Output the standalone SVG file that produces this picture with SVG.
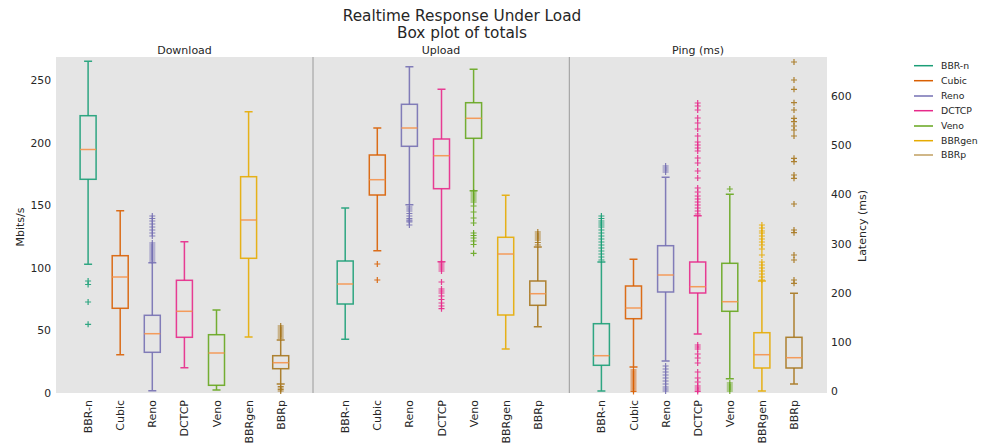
<svg xmlns="http://www.w3.org/2000/svg" xmlns:xlink="http://www.w3.org/1999/xlink" width="988" height="444" viewBox="0 0 988 444">
<style>
text{font-family:"DejaVu Sans","Liberation Sans",sans-serif;fill:#262626}
.t1{font-size:15.3px;text-anchor:middle}
.pt{font-size:11px;text-anchor:middle}
.tk{font-size:10.8px}
.xl{font-size:11px;text-anchor:end}
.lg{font-size:9.3px}
.bx{fill:none;stroke-width:1.5;stroke-opacity:.9}
.bx rect,.bx path{fill:none}
.md{stroke:#f5924b;stroke-width:1.5}
.c0{stroke:#1b9e77}.c1{stroke:#d95f02}.c2{stroke:#7570b3}.c3{stroke:#e7298a}.c4{stroke:#66a61e}.c5{stroke:#e6ab02}.c6{stroke:#a6761d}
</style>
<defs>
<path id="f" d="M-3,0H3M0,-3V3" stroke-width="1.2"/>
</defs>
<rect width="988" height="444" fill="#ffffff"/>
<g id="axes">
<rect x="56" y="57" width="771" height="336" fill="#e5e5e5"/>
<path d="M313,57V393M569.3,57V393" stroke="#9a9a9a" stroke-width="1"/>
<text class="t1" x="462" y="21">Realtime Response Under Load</text>
<text class="t1" x="462" y="38">Box plot of totals</text>
<text class="pt" x="184.5" y="54">Download</text>
<text class="pt" x="441" y="54">Upload</text>
<text class="pt" x="698" y="54">Ping (ms)</text>
<g class="tk" text-anchor="end">
<text x="51" y="397">0</text><text x="51" y="334.4">50</text><text x="51" y="271.8">100</text><text x="51" y="209.2">150</text><text x="51" y="146.6">200</text><text x="51" y="84">250</text>
</g>
<g class="tk" text-anchor="start">
<text x="831" y="395">0</text><text x="831" y="345.8">100</text><text x="831" y="296.7">200</text><text x="831" y="247.5">300</text><text x="831" y="198.3">400</text><text x="831" y="149.2">500</text><text x="831" y="100">600</text>
</g>
<text class="pt" transform="translate(24,227) rotate(-90)">Mbits/s</text>
<text class="pt" transform="translate(866,226) rotate(-90)">Latency (ms)</text>
<g class="xl">
<text transform="translate(92.1,400) rotate(-90)">BBR-n</text>
<text transform="translate(124.2,400) rotate(-90)">Cubic</text>
<text transform="translate(156.3,400) rotate(-90)">Reno</text>
<text transform="translate(188.4,400) rotate(-90)">DCTCP</text>
<text transform="translate(220.5,400) rotate(-90)">Veno</text>
<text transform="translate(252.6,400) rotate(-90)">BBRgen</text>
<text transform="translate(284.7,400) rotate(-90)">BBRp</text>
<text transform="translate(349.2,400) rotate(-90)">BBR-n</text>
<text transform="translate(381.3,400) rotate(-90)">Cubic</text>
<text transform="translate(413.4,400) rotate(-90)">Reno</text>
<text transform="translate(445.5,400) rotate(-90)">DCTCP</text>
<text transform="translate(477.6,400) rotate(-90)">Veno</text>
<text transform="translate(509.7,400) rotate(-90)">BBRgen</text>
<text transform="translate(541.8,400) rotate(-90)">BBRp</text>
<text transform="translate(605.4,400) rotate(-90)">BBR-n</text>
<text transform="translate(637.5,400) rotate(-90)">Cubic</text>
<text transform="translate(669.6,400) rotate(-90)">Reno</text>
<text transform="translate(701.7,400) rotate(-90)">DCTCP</text>
<text transform="translate(733.8,400) rotate(-90)">Veno</text>
<text transform="translate(765.9,400) rotate(-90)">BBRgen</text>
<text transform="translate(798,400) rotate(-90)">BBRp</text>
</g>
</g>
<g id="download">
<g id="d-bbrn" class="bx c0"><path d="M88.1,61.3V115.7M88.1,179.3V264.3M84.1,61.3H92.1M84.1,264.3H92.1"/><rect x="80.1" y="115.7" width="16" height="63.6"/><path class="md" d="M80.1,149.5H96.1"/>
<use href="#f" x="88.1" y="281"/><use href="#f" x="88.1" y="284.5"/><use href="#f" x="88.1" y="302"/><use href="#f" x="88.1" y="324.3"/></g>
<g id="d-cubic" class="bx c1"><path d="M120.2,210.7V255.7M120.2,308.3V354.7M116.2,210.7H124.2M116.2,354.7H124.2"/><rect x="112.2" y="255.7" width="16" height="52.6"/><path class="md" d="M112.2,277H128.2"/></g>
<g id="d-reno" class="bx c2"><path d="M152.3,262.7V315.3M152.3,352.3V390.7M148.3,262.7H156.3M148.3,390.7H156.3"/><rect x="144.3" y="315.3" width="16" height="37"/><path class="md" d="M144.3,333.7H160.3"/>
<use href="#f" x="152.3" y="216"/><use href="#f" x="152.3" y="218.5"/><use href="#f" x="152.3" y="221"/><use href="#f" x="152.3" y="224"/><use href="#f" x="152.3" y="227"/><use href="#f" x="152.3" y="230"/><use href="#f" x="152.3" y="233"/><use href="#f" x="152.3" y="236"/><use href="#f" x="152.3" y="243"/><use href="#f" x="152.3" y="245"/><use href="#f" x="152.3" y="247"/><use href="#f" x="152.3" y="249"/><use href="#f" x="152.3" y="251"/><use href="#f" x="152.3" y="253"/><use href="#f" x="152.3" y="255"/><use href="#f" x="152.3" y="257"/><use href="#f" x="152.3" y="259"/><use href="#f" x="152.3" y="261"/></g>
<g id="d-dctcp" class="bx c3"><path d="M184.4,241.7V280.3M184.4,337.3V367.7M180.4,241.7H188.4M180.4,367.7H188.4"/><rect x="176.4" y="280.3" width="16" height="57"/><path class="md" d="M176.4,311.3H192.4"/></g>
<g id="d-veno" class="bx c4"><path d="M216.5,310V334.7M216.5,385.3V390M212.5,310H220.5M212.5,390H220.5"/><rect x="208.5" y="334.7" width="16" height="50.6"/><path class="md" d="M208.5,353H224.5"/></g>
<g id="d-bbrgen" class="bx c5"><path d="M248.6,111.7V176.7M248.6,258.3V337M244.6,111.7H252.6M244.6,337H252.6"/><rect x="240.6" y="176.7" width="16" height="81.6"/><path class="md" d="M240.6,220H256.6"/></g>
<g id="d-bbrp" class="bx c6"><path d="M280.7,340V355.7M280.7,368.7V384M276.7,340H284.7M276.7,384H284.7"/><rect x="272.7" y="355.7" width="16" height="13"/><path class="md" d="M272.7,362.7H288.7"/>
<use href="#f" x="280.7" y="326"/><use href="#f" x="280.7" y="328"/><use href="#f" x="280.7" y="330"/><use href="#f" x="280.7" y="332"/><use href="#f" x="280.7" y="334"/><use href="#f" x="280.7" y="336"/><use href="#f" x="280.7" y="338"/><use href="#f" x="280.7" y="386.5"/><use href="#f" x="280.7" y="388"/><use href="#f" x="280.7" y="389.5"/><use href="#f" x="280.7" y="391"/></g>
</g>
<g id="upload">
<g id="u-bbrn" class="bx c0"><path d="M345.2,208V261M345.2,304V339.3M341.2,208H349.2M341.2,339.3H349.2"/><rect x="337.2" y="261" width="16" height="43"/><path class="md" d="M337.2,284H353.2"/></g>
<g id="u-cubic" class="bx c1"><path d="M377.3,128V155M377.3,195V250.7M373.3,128H381.3M373.3,250.7H381.3"/><rect x="369.3" y="155" width="16" height="40"/><path class="md" d="M369.3,179.7H385.3"/>
<use href="#f" x="377.3" y="264"/><use href="#f" x="377.3" y="280"/></g>
<g id="u-reno" class="bx c2"><path d="M409.4,66.7V104.3M409.4,146.3V204.7M405.4,66.7H413.4M405.4,204.7H413.4"/><rect x="401.4" y="104.3" width="16" height="42"/><path class="md" d="M401.4,128H417.4"/>
<use href="#f" x="409.4" y="207"/><use href="#f" x="409.4" y="209"/><use href="#f" x="409.4" y="211"/><use href="#f" x="409.4" y="213.5"/><use href="#f" x="409.4" y="216"/><use href="#f" x="409.4" y="218.5"/><use href="#f" x="409.4" y="220"/><use href="#f" x="409.4" y="221"/><use href="#f" x="409.4" y="222"/><use href="#f" x="409.4" y="225"/></g>
<g id="u-dctcp" class="bx c3"><path d="M441.5,89.3V139M441.5,188.7V261.7M437.5,89.3H445.5M437.5,261.7H445.5"/><rect x="433.5" y="139" width="16" height="49.7"/><path class="md" d="M433.5,155.7H449.5"/>
<use href="#f" x="441.5" y="263"/><use href="#f" x="441.5" y="265"/><use href="#f" x="441.5" y="267"/><use href="#f" x="441.5" y="269"/><use href="#f" x="441.5" y="271"/><use href="#f" x="441.5" y="282"/><use href="#f" x="441.5" y="289"/><use href="#f" x="441.5" y="291"/><use href="#f" x="441.5" y="293"/><use href="#f" x="441.5" y="296"/><use href="#f" x="441.5" y="299.5"/><use href="#f" x="441.5" y="303"/><use href="#f" x="441.5" y="306"/><use href="#f" x="441.5" y="308.7"/></g>
<g id="u-veno" class="bx c4"><path d="M473.6,69.3V102.7M473.6,138.3V190.7M469.6,69.3H477.6M469.6,190.7H477.6"/><rect x="465.6" y="102.7" width="16" height="35.6"/><path class="md" d="M465.6,118.3H481.6"/>
<use href="#f" x="473.6" y="192"/><use href="#f" x="473.6" y="194"/><use href="#f" x="473.6" y="196"/><use href="#f" x="473.6" y="198"/><use href="#f" x="473.6" y="200"/><use href="#f" x="473.6" y="202"/><use href="#f" x="473.6" y="206"/><use href="#f" x="473.6" y="212"/><use href="#f" x="473.6" y="218"/><use href="#f" x="473.6" y="223"/><use href="#f" x="473.6" y="233"/><use href="#f" x="473.6" y="235.5"/><use href="#f" x="473.6" y="238"/><use href="#f" x="473.6" y="241"/><use href="#f" x="473.6" y="244.5"/><use href="#f" x="473.6" y="253.3"/></g>
<g id="u-bbrgen" class="bx c5"><path d="M505.7,195.3V237.3M505.7,315V349M501.7,195.3H509.7M501.7,349H509.7"/><rect x="497.7" y="237.3" width="16" height="77.7"/><path class="md" d="M497.7,254H513.7"/></g>
<g id="u-bbrp" class="bx c6"><path d="M537.8,247V281M537.8,305.3V326.7M533.8,247H541.8M533.8,326.7H541.8"/><rect x="529.8" y="281" width="16" height="24.3"/><path class="md" d="M529.8,293.7H545.8"/>
<use href="#f" x="537.8" y="232"/><use href="#f" x="537.8" y="234"/><use href="#f" x="537.8" y="236"/><use href="#f" x="537.8" y="238"/><use href="#f" x="537.8" y="240"/><use href="#f" x="537.8" y="242.5"/><use href="#f" x="537.8" y="245"/></g>
</g>
<g id="ping">
<g id="p-bbrn" class="bx c0"><path d="M601.4,262V323.7M601.4,365.3V391M597.4,262H605.4M597.4,391H605.4"/><rect x="593.4" y="323.7" width="16" height="41.6"/><path class="md" d="M593.4,355.7H609.4"/>
<use href="#f" x="601.4" y="216"/><use href="#f" x="601.4" y="218.5"/><use href="#f" x="601.4" y="221"/><use href="#f" x="601.4" y="223"/><use href="#f" x="601.4" y="225"/><use href="#f" x="601.4" y="227"/><use href="#f" x="601.4" y="230"/><use href="#f" x="601.4" y="233"/><use href="#f" x="601.4" y="236"/><use href="#f" x="601.4" y="239"/><use href="#f" x="601.4" y="242"/><use href="#f" x="601.4" y="245"/><use href="#f" x="601.4" y="248"/><use href="#f" x="601.4" y="251"/><use href="#f" x="601.4" y="254"/><use href="#f" x="601.4" y="257"/><use href="#f" x="601.4" y="260"/></g>
<g id="p-cubic" class="bx c1"><path d="M633.5,259.3V286M633.5,318.7V367M629.5,259.3H637.5M629.5,367H637.5"/><rect x="625.5" y="286" width="16" height="32.7"/><path class="md" d="M625.5,308H641.5"/>
<use href="#f" x="633.5" y="370"/><use href="#f" x="633.5" y="372"/><use href="#f" x="633.5" y="374"/><use href="#f" x="633.5" y="376"/><use href="#f" x="633.5" y="378"/><use href="#f" x="633.5" y="380"/><use href="#f" x="633.5" y="382"/><use href="#f" x="633.5" y="384"/><use href="#f" x="633.5" y="386"/><use href="#f" x="633.5" y="388"/><use href="#f" x="633.5" y="390"/><use href="#f" x="633.5" y="391.5"/></g>
<g id="p-reno" class="bx c2"><path d="M665.6,177.3V245.7M665.6,292V361M661.6,177.3H669.6M661.6,361H669.6"/><rect x="657.6" y="245.7" width="16" height="46.3"/><path class="md" d="M657.6,275H673.6"/>
<use href="#f" x="665.6" y="166"/><use href="#f" x="665.6" y="168"/><use href="#f" x="665.6" y="170"/><use href="#f" x="665.6" y="172"/><use href="#f" x="665.6" y="366"/><use href="#f" x="665.6" y="369"/><use href="#f" x="665.6" y="372"/><use href="#f" x="665.6" y="375"/><use href="#f" x="665.6" y="378"/><use href="#f" x="665.6" y="381"/><use href="#f" x="665.6" y="384"/><use href="#f" x="665.6" y="387"/><use href="#f" x="665.6" y="389"/><use href="#f" x="665.6" y="391"/></g>
<g id="p-dctcp" class="bx c3"><path d="M697.7,215.7V262M697.7,293V334M693.7,215.7H701.7M693.7,334H701.7"/><rect x="689.7" y="262" width="16" height="31"/><path class="md" d="M689.7,286.7H705.7"/>
<use href="#f" x="697.7" y="103"/><use href="#f" x="697.7" y="106"/><use href="#f" x="697.7" y="110"/><use href="#f" x="697.7" y="118"/><use href="#f" x="697.7" y="123"/><use href="#f" x="697.7" y="129"/><use href="#f" x="697.7" y="136"/><use href="#f" x="697.7" y="142"/><use href="#f" x="697.7" y="145"/><use href="#f" x="697.7" y="148"/><use href="#f" x="697.7" y="151"/><use href="#f" x="697.7" y="158"/><use href="#f" x="697.7" y="163"/><use href="#f" x="697.7" y="171"/><use href="#f" x="697.7" y="178"/><use href="#f" x="697.7" y="188"/><use href="#f" x="697.7" y="192"/><use href="#f" x="697.7" y="196"/><use href="#f" x="697.7" y="199"/><use href="#f" x="697.7" y="202"/><use href="#f" x="697.7" y="205"/><use href="#f" x="697.7" y="208"/><use href="#f" x="697.7" y="211"/><use href="#f" x="697.7" y="214"/>
<use href="#f" x="697.7" y="345"/><use href="#f" x="697.7" y="347"/><use href="#f" x="697.7" y="349"/><use href="#f" x="697.7" y="354"/><use href="#f" x="697.7" y="358"/><use href="#f" x="697.7" y="363"/><use href="#f" x="697.7" y="372"/><use href="#f" x="697.7" y="378"/><use href="#f" x="697.7" y="382"/><use href="#f" x="697.7" y="386"/><use href="#f" x="697.7" y="388"/><use href="#f" x="697.7" y="390"/><use href="#f" x="697.7" y="391.5"/></g>
<g id="p-veno" class="bx c4"><path d="M729.8,194.3V263.3M729.8,311.3V378.7M725.8,194.3H733.8M725.8,378.7H733.8"/><rect x="721.8" y="263.3" width="16" height="48"/><path class="md" d="M721.8,301.7H737.8"/>
<use href="#f" x="729.8" y="189"/><use href="#f" x="729.8" y="383"/><use href="#f" x="729.8" y="385"/><use href="#f" x="729.8" y="387"/><use href="#f" x="729.8" y="389"/><use href="#f" x="729.8" y="391"/></g>
<g id="p-bbrgen" class="bx c5"><path d="M761.9,281V332.7M761.9,368V391M757.9,281H765.9M757.9,391H765.9"/><rect x="753.9" y="332.7" width="16" height="35.3"/><path class="md" d="M753.9,354.7H769.9"/>
<use href="#f" x="761.9" y="225"/><use href="#f" x="761.9" y="228"/><use href="#f" x="761.9" y="231"/><use href="#f" x="761.9" y="233"/><use href="#f" x="761.9" y="236"/><use href="#f" x="761.9" y="239"/><use href="#f" x="761.9" y="242"/><use href="#f" x="761.9" y="245"/><use href="#f" x="761.9" y="249"/><use href="#f" x="761.9" y="255"/><use href="#f" x="761.9" y="262"/><use href="#f" x="761.9" y="265"/><use href="#f" x="761.9" y="268"/><use href="#f" x="761.9" y="271"/><use href="#f" x="761.9" y="274"/><use href="#f" x="761.9" y="277"/><use href="#f" x="761.9" y="280"/></g>
<g id="p-bbrp" class="bx c6"><path d="M794,293.3V337.3M794,368V384M790,293.3H798M790,384H798"/><rect x="786" y="337.3" width="16" height="30.7"/><path class="md" d="M786,357.7H802"/>
<use href="#f" x="794" y="62"/><use href="#f" x="794" y="80"/><use href="#f" x="794" y="89.3"/><use href="#f" x="794" y="102.7"/><use href="#f" x="794" y="110"/><use href="#f" x="794" y="118.3"/><use href="#f" x="794" y="121.7"/><use href="#f" x="794" y="126"/><use href="#f" x="794" y="130"/><use href="#f" x="794" y="136"/><use href="#f" x="794" y="158.3"/><use href="#f" x="794" y="161.7"/><use href="#f" x="794" y="175"/><use href="#f" x="794" y="178.3"/><use href="#f" x="794" y="204"/><use href="#f" x="794" y="230"/><use href="#f" x="794" y="232.7"/><use href="#f" x="794" y="255"/><use href="#f" x="794" y="260"/><use href="#f" x="794" y="280"/><use href="#f" x="794" y="283.3"/></g>
</g>
<g id="legend" stroke-width="1.5">
<path class="c0" d="M914,65.7H933"/><text class="lg" x="941" y="69">BBR-n</text>
<path class="c1" d="M914,80.7H933"/><text class="lg" x="941" y="84">Cubic</text>
<path class="c2" d="M914,96H933"/><text class="lg" x="941" y="99.3">Reno</text>
<path class="c3" d="M914,110.7H933"/><text class="lg" x="941" y="114">DCTCP</text>
<path class="c4" d="M914,126H933"/><text class="lg" x="941" y="129.3">Veno</text>
<path class="c5" d="M914,140.7H933"/><text class="lg" x="941" y="144">BBRgen</text>
<path class="c6" d="M914,155H933" stroke-opacity="0.7"/><text class="lg" x="941" y="158.3">BBRp</text>
</g>
</svg>
